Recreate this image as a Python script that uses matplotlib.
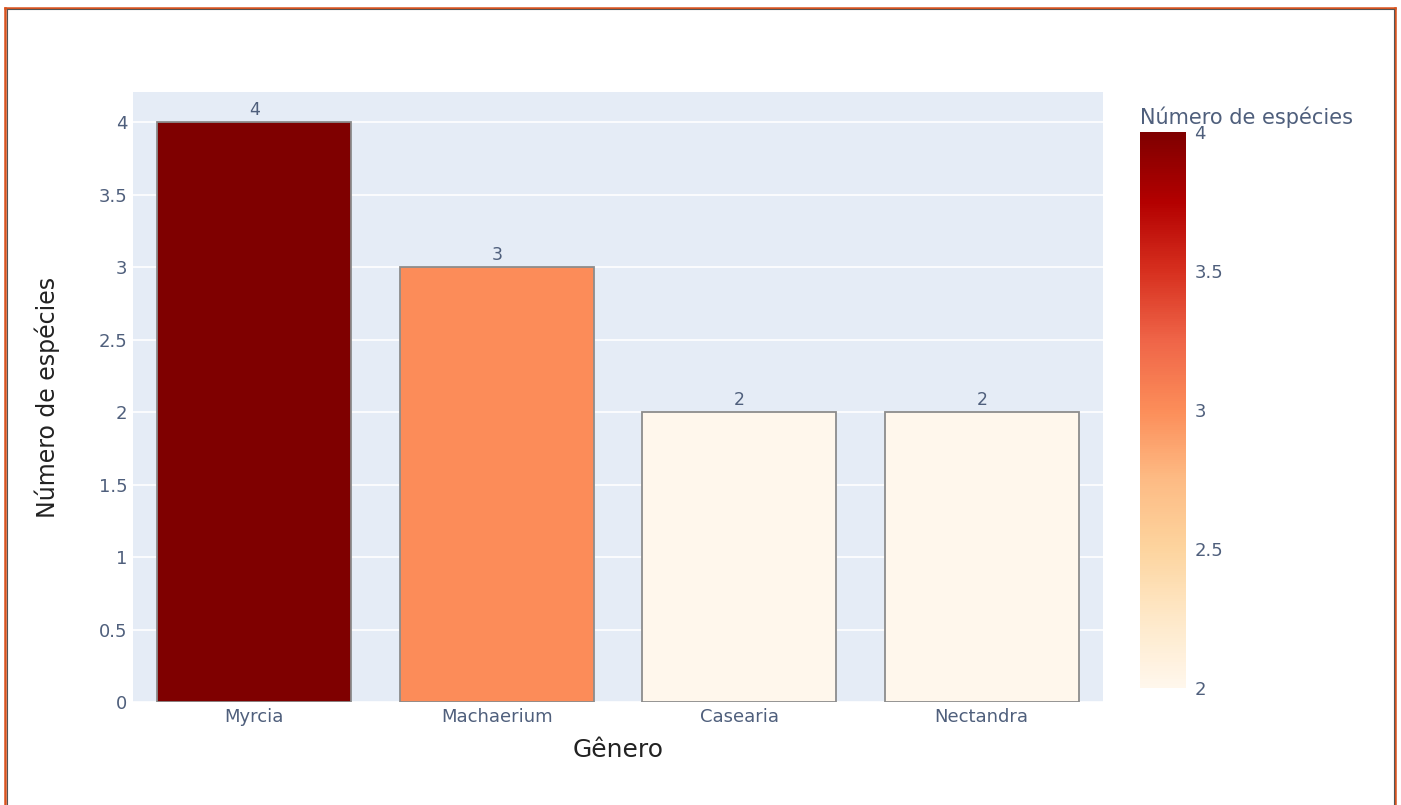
import matplotlib
matplotlib.use('Agg')
import matplotlib.pyplot as plt
from matplotlib.colors import LinearSegmentedColormap, Normalize
from matplotlib.cm import ScalarMappable
from matplotlib.lines import Line2D

generos = ['Myrcia', 'Machaerium', 'Casearia', 'Nectandra']
especies = [4, 3, 2, 2]
cbar_ticks = [2, 2.5, 3, 3.5, 4]
y_ticks = [0, 0.5, 1, 1.5, 2, 2.5, 3, 3.5, 4]

plt.rcParams['font.family'] = ['DejaVu Sans']

# escala OrRd do plotly
orrd = ['#fff7ec', '#fee8c8', '#fdd49e', '#fdbb84', '#fc8d59',
        '#ef6548', '#d7301f', '#b30000', '#7f0000']
cmap = LinearSegmentedColormap.from_list('OrRd_plotly', orrd)
norm = Normalize(vmin=min(especies), vmax=max(especies))

tick_cor = '#4f5f7c'
W, H = 1401, 805
fig = plt.figure(figsize=(W / 100, H / 100), dpi=100)
fig.patch.set_facecolor('white')

ax = fig.add_axes([133 / W, 1 - 702 / H, 970 / W, 610 / H])
ax.set_facecolor('#E5ECF6')
x = range(len(generos))
bars = ax.bar(x, especies, width=0.8, color=[cmap(norm(v)) for v in especies],
              edgecolor='#8c8c8c', linewidth=1.3, zorder=3)

for b, v in zip(bars, especies):
    ax.text(b.get_x() + b.get_width() / 2, v + 0.025, str(v), ha='center', va='bottom',
            fontsize=12.5, color=tick_cor, zorder=4)

ax.set_xlim(-0.5, len(generos) - 0.5)
ax.set_ylim(0, 4.2105)
ax.set_xticks(list(x))
ax.set_xticklabels(generos, fontsize=13, color=tick_cor)
ax.set_yticks(y_ticks)
ax.set_yticklabels([f'{t:g}' for t in y_ticks], fontsize=13, color=tick_cor)
ax.tick_params(axis='both', length=0, pad=4)
ax.grid(True, axis='y', color='white', linewidth=1.2, zorder=0)
for s in ax.spines.values():
    s.set_visible(False)

ax.set_xlabel('Gênero', fontsize=18, color='#222222', labelpad=9)
ax.set_ylabel('Número de espécies', fontsize=17, color='#222222', labelpad=28)

# barra de cores
cax = fig.add_axes([1140 / W, 1 - 688 / H, 46 / W, 556 / H])
sm = ScalarMappable(norm=norm, cmap=cmap)
cb = fig.colorbar(sm, cax=cax, ticks=cbar_ticks)
cb.outline.set_visible(False)
cb.ax.tick_params(length=0, labelsize=13, labelcolor=tick_cor, pad=6)
cb.ax.set_yticklabels([f'{t:g}' for t in cbar_ticks])
fig.text(1140 / W, 1 - 117 / H, 'Número de espécies', fontsize=15, color=tick_cor,
         ha='left', va='center')

# moldura laranja (topo, esquerda, direita)
for xs, ys in [([5 / W, 5 / W], [0, 1 - 8 / H]),
               ([5 / W, 1395 / W], [1 - 8 / H, 1 - 8 / H]),
               ([1395 / W, 1395 / W], [1 - 8 / H, 0])]:
    fig.add_artist(Line2D(xs, ys, color='#d9531e', linewidth=1.8))
for xs, ys in [([6.5 / W, 6.5 / W], [0, 1 - 9.5 / H]),
               ([6.5 / W, 1393.5 / W], [1 - 9.5 / H, 1 - 9.5 / H]),
               ([1393.5 / W, 1393.5 / W], [1 - 9.5 / H, 0])]:
    fig.add_artist(Line2D(xs, ys, color='#555555', linewidth=0.8))

fig.savefig('out.png', dpi=100)
